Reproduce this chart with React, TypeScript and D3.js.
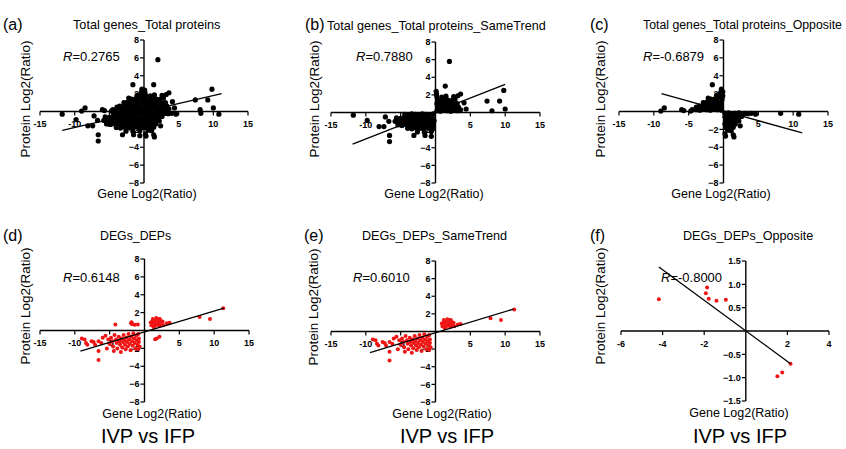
import React from "react";
import * as d3 from "d3";

type Pt = [number, number];

// Total genes vs total proteins, same-trend quadrants (I and III)
const genesSame: Pt[] = [
  [2.0, 5.8], [1.4, 3.0], [9.8, 2.5], [9.2, 1.3], [7.4, 1.3], [8.1, 0.2], [10.0, 0.4], [3.6, 2.1], [0.1, 2.4], [4.1, 1.1], [4.4, 0.4], [3.2, 1.9],
  [0.2, 0.2], [0.7, 0.15], [1.2, 0.25], [1.7, 0.2], [2.2, 0.15], [2.7, 0.25], [3.2, 0.2], [3.6, 0.3],
  [0.3, 0.6], [0.8, 0.55], [1.3, 0.65], [1.8, 0.6], [2.3, 0.55], [2.8, 0.65], [3.3, 0.6],
  [0.2, 1.0], [0.7, 1.05], [1.2, 0.95], [1.7, 1.0], [2.2, 1.05], [2.7, 0.95], [3.1, 1.0],
  [0.3, 1.4], [0.8, 1.35], [1.3, 1.45], [1.8, 1.4], [2.3, 1.35], [2.8, 1.5],
  [0.2, 1.8], [0.9, 1.75], [1.5, 1.85], [2.6, 1.8], [0.15, 2.1],
  [-11.8, -0.3], [-9.8, -0.9], [-8.1, -1.6], [-7.4, -1.6], [-6.6, -2.6], [-6.6, -3.3], [-3.1, -2.6], [-1.5, -2.6], [-6.7, -1.0], [-7.2, -0.5], [-0.6, -2.7],
  [-4.4, -0.2], [-3.9, -0.25], [-3.4, -0.15], [-2.9, -0.2], [-2.4, -0.25], [-1.9, -0.15], [-1.4, -0.2], [-0.9, -0.25], [-0.3, -0.15],
  [-5.6, -0.6], [-5.0, -0.65], [-4.5, -0.55], [-4.0, -0.6], [-3.5, -0.65], [-3.0, -0.55], [-2.5, -0.6], [-2.0, -0.65], [-1.5, -0.55], [-1.0, -0.6], [-0.4, -0.65],
  [-5.8, -1.0], [-5.2, -1.05], [-4.7, -0.95], [-4.2, -1.0], [-3.7, -1.05], [-3.2, -0.95], [-2.7, -1.0], [-2.2, -1.05], [-1.7, -0.95], [-1.2, -1.0], [-0.7, -1.05], [-0.2, -0.95],
  [-5.4, -1.4], [-4.9, -1.45], [-4.4, -1.35], [-3.8, -1.4], [-3.3, -1.45], [-2.8, -1.35], [-2.3, -1.4], [-1.8, -1.45], [-1.3, -1.35], [-0.8, -1.4], [-0.3, -1.45],
  [-4.0, -1.8], [-3.4, -1.85], [-2.8, -1.75], [-2.2, -1.8], [-1.6, -1.85], [-1.0, -1.75], [-0.4, -1.8],
  [-2.6, -2.2], [-1.6, -2.25], [-0.6, -2.15],
];

// Total genes vs total proteins, opposite quadrants (II and IV)
const genesOpposite: Pt[] = [
  [-1.6, 3.0], [-2.2, 1.5], [-8.5, 0.4], [-9.0, 0.05], [-6.0, 0.2], [-5.7, 0.1], [-4.5, 0.2], [-4.7, 0.05], [-3.9, 0.5], [-0.3, 2.5],
  [-3.9, 0.2], [-3.4, 0.15], [-2.9, 0.25], [-2.4, 0.2], [-1.9, 0.15], [-1.4, 0.25], [-0.9, 0.2], [-0.3, 0.15],
  [-3.5, 0.6], [-3.0, 0.55], [-2.5, 0.65], [-2.0, 0.6], [-1.5, 0.55], [-1.0, 0.65], [-0.4, 0.6],
  [-2.9, 1.0], [-2.4, 1.05], [-1.9, 0.95], [-1.4, 1.0], [-0.9, 1.05], [-0.3, 1.0],
  [-1.8, 1.4], [-1.3, 1.35], [-0.8, 1.45], [-0.2, 1.4],
  [-1.0, 1.8], [-0.5, 1.85], [-0.1, 1.75], [-0.4, 2.15], [-0.1, 2.2],
  [3.5, -0.25], [4.0, -0.2], [4.6, -0.3], [8.2, -0.2], [10.8, -0.3], [0.2, -2.5], [0.3, -2.75], [1.5, -2.85], [1.4, -2.6], [2.4, -1.6],
  [0.2, -0.2], [0.7, -0.15], [1.2, -0.25], [1.7, -0.2], [2.2, -0.15], [2.7, -0.25], [3.1, -0.2],
  [0.2, -0.6], [0.7, -0.65], [1.2, -0.55], [1.7, -0.6], [2.2, -0.65], [2.6, -0.55],
  [0.3, -1.0], [0.8, -1.05], [1.3, -0.95], [1.8, -1.0], [2.2, -1.05],
  [0.2, -1.4], [0.7, -1.35], [1.2, -1.45], [1.7, -1.4],
  [0.3, -1.8], [0.9, -1.85], [1.4, -1.75], [0.6, -2.1], [1.1, -2.15],
];

const genesAll: Pt[] = [...genesSame, ...genesOpposite];

// DEGs vs DEPs, same trend
const degSame: Pt[] = [
  [11.3, 2.5], [7.9, 1.5], [9.4, 1.3], [3.6, 0.86], [3.2, 0.8],
  [1.0, 0.6], [1.1, 1.0], [1.2, 1.3], [1.4, 0.8], [1.5, 0.5], [1.6, 1.1], [1.8, 0.7], [1.9, 1.3], [2.0, 0.9], [2.1, 0.5],
  [2.3, 1.1], [2.4, 0.7], [2.6, 1.0], [2.7, 0.6], [1.3, 0.4], [1.7, 1.4], [2.2, 1.3], [0.9, 0.9],
  [-9.0, -0.9], [-8.6, -1.0], [-8.4, -1.4], [-8.2, -1.6], [-7.6, -1.2], [-7.3, -1.3], [-7.1, -1.6], [-6.6, -1.2], [-6.6, -2.3], [-6.6, -3.3], [-6.2, -1.4], [-6.0, -0.8],
  [-5.6, -0.6], [-5.4, -2.0], [-5.2, -1.0], [-5.0, -1.5], [-4.8, -0.8], [-4.6, -1.2], [-4.5, -1.8], [-4.4, -2.3], [-4.3, -0.5], [-4.1, -1.0],
  [-4.0, -1.4], [-3.9, -2.0], [-3.7, -0.7], [-3.6, -1.2], [-3.5, -1.6], [-3.4, -2.4], [-3.3, -0.9], [-3.2, -1.9], [-3.1, -1.3], [-3.0, -0.5],
  [-2.9, -1.1], [-2.8, -1.6], [-2.7, -2.1], [-2.6, -0.8], [-2.5, -1.3], [-2.4, -1.8], [-2.3, -0.4], [-2.2, -1.0], [-2.1, -1.5], [-2.0, -2.2],
  [-1.9, -0.7], [-1.8, -1.2], [-1.7, -1.7], [-1.6, -0.3], [-1.5, -0.9], [-1.4, -1.4], [-1.3, -2.0], [-1.2, -0.6], [-1.1, -1.1], [-1.0, -1.6],
  [-0.9, -0.4], [-0.9, -2.1], [-0.8, -0.9], [-0.8, -1.3], [-0.7, -1.8],
];

// DEGs vs DEPs, opposite trend
const degOpposite: Pt[] = [
  [-4.18, 0.68], [-1.86, 0.93], [-1.92, 0.81], [-1.78, 0.69], [-1.41, 0.65], [-0.96, 0.67],
  [2.15, -0.7], [1.75, -0.89], [1.52, -0.97],
];

const degAll: Pt[] = [...degSame, ...degOpposite];

// regression lines: [x0, y0, x1, y1]
const fitA = [-11.8, -2.1, 11.2, 2.0];
const fitB = [-11.9, -3.6, 10.0, 3.2];
const fitC = [-8.9, 2.0, 11.3, -2.4];
const fitD = [-9.2, -2.3, 11.4, 2.5];
const fitE = [-9.4, -2.4, 11.2, 2.55];
const fitF = [-4.18, 1.37, 2.15, -0.7];

const wideTicksX = [-15, -10, -5, 5, 10, 15];
const wideTicksY = [-8, -6, -4, -2, 2, 4, 6, 8];
const narrowTicksX = [-6, -4, -2, 2, 4];
const narrowTicksY = [-1.5, -1.0, -0.5, 0.5, 1.0, 1.5];

const FONT = "'Liberation Sans', Arial, sans-serif";
const RED = "#f01414";

const panels = [
  { letter: "(a)", lx: 3, ly: 30, title: "Total genes_Total proteins", tx: 73, ty: 29, ts: 12.7, r: "=0.2765", rx: 63, ry: 61,
    data: genesAll, fit: fitA, xd: [-15, 15], yd: [-8, 8], xr: [40, 248], yr: [183, 40], xt: wideTicksX, yt: wideTicksY,
    color: "#000", yl: [25, 99], xl: [147, 198], foot: null },
  { letter: "(b)", lx: 305, ly: 30, title: "Total genes_Total proteins_SameTrend", tx: 327, ty: 30, ts: 12.6, r: "=0.7880", rx: 356, ry: 61,
    data: genesSame, fit: fitB, xd: [-15, 15], yd: [-8, 8], xr: [331, 540], yr: [183, 42], xt: wideTicksX, yt: wideTicksY,
    color: "#000", yl: [314, 99], xl: [434, 198], foot: null },
  { letter: "(c)", lx: 590, ly: 30, title: "Total genes_Total proteins_Opposite", tx: 643, ty: 29, ts: 12.3, r: "=-0.6879", rx: 643, ry: 61,
    data: genesOpposite, fit: fitC, xd: [-15, 15], yd: [-8, 8], xr: [619, 828], yr: [183, 40], xt: wideTicksX, yt: wideTicksY,
    color: "#000", yl: [600, 99], xl: [721, 198], foot: null },
  { letter: "(d)", lx: 3, ly: 241, title: "DEGs_DEPs", tx: 100, ty: 240, ts: 12.3, r: "=0.6148", rx: 63, ry: 282,
    data: degAll, fit: fitD, xd: [-15, 15], yd: [-8, 8], xr: [40, 249], yr: [402, 259], xt: wideTicksX, yt: wideTicksY,
    color: RED, yl: [25, 306], xl: [152, 418], foot: 148 },
  { letter: "(e)", lx: 304, ly: 241, title: "DEGs_DEPs_SameTrend", tx: 362, ty: 240, ts: 12.6, r: "=0.6010", rx: 353, ry: 282,
    data: degSame, fit: fitE, xd: [-15, 15], yd: [-8, 8], xr: [331, 540], yr: [402, 261], xt: wideTicksX, yt: wideTicksY,
    color: RED, yl: [313, 307], xl: [442, 418], foot: 447 },
  { letter: "(f)", lx: 590, ly: 241, title: "DEGs_DEPs_Opposite", tx: 683, ty: 240, ts: 12.6, r: "=-0.8000", rx: 661, ry: 282,
    data: degOpposite, fit: fitF, xd: [-6, 4], yd: [-1.5, 1.5], xr: [621, 829], yr: [401, 261], xt: narrowTicksX, yt: narrowTicksY,
    color: RED, yl: [600, 306], xl: [739, 417], foot: 740 },
];

const Panel = ({ p }: { p: (typeof panels)[number] }) => {
  const x = d3.scaleLinear().domain(p.xd).range(p.xr);
  const y = d3.scaleLinear().domain(p.yd).range(p.yr);
  const x0 = x(0);
  const y0 = y(0);
  const narrow = p.xd[0] === -6;
  const fmtY = narrow ? d3.format(".1f") : d3.format("d");
  const line = d3.line<number[]>().x((d) => x(d[0])).y((d) => y(d[1]));
  const r = p.color === "#000" ? 2.6 : 2.0;

  return (
    <g fontFamily={FONT}>
      <text x={p.lx} y={p.ly} fontSize={16}>{p.letter}</text>
      <text x={p.tx} y={p.ty} fontSize={p.ts}>{p.title}</text>
      <text x={p.rx} y={p.ry} fontSize={13}>
        <tspan fontStyle="italic">R</tspan>{p.r}
      </text>

      {/* axes */}
      <line x1={p.xr[0]} x2={p.xr[1]} y1={y0} y2={y0} stroke="#000" strokeWidth={1.4} />
      <line x1={x0} x2={x0} y1={p.yr[0]} y2={p.yr[1]} stroke="#000" strokeWidth={1.4} />
      {p.xt.map((t) => (
        <g key={"x" + t}>
          <line x1={x(t)} x2={x(t)} y1={y0} y2={y0 + 4} stroke="#000" strokeWidth={1.2} />
          <text x={x(t)} y={y0 + 15.5} fontSize={9} fontWeight="bold" textAnchor="middle">{t}</text>
        </g>
      ))}
      {p.yt.map((t) => (
        <g key={"y" + t}>
          <line x1={x0 - 4} x2={x0} y1={y(t)} y2={y(t)} stroke="#000" strokeWidth={1.2} />
          <text x={x0 - 5} y={y(t) + 3.2} fontSize={9} fontWeight="bold" textAnchor="end">{fmtY(t)}</text>
        </g>
      ))}

      {p.data.map((d, i) => (
        <circle key={i} cx={x(d[0])} cy={y(d[1])} r={r} fill={p.color} />
      ))}

      <path d={line([[p.fit[0], p.fit[1]], [p.fit[2], p.fit[3]]]) || ""} stroke="#000" strokeWidth={1.3} fill="none" />

      <text transform={`translate(${p.yl[0] + 5},${p.yl[1]}) rotate(-90)`} fontSize={13.5} textAnchor="middle">
        Protein Log2(Ratio)
      </text>
      <text x={p.xl[0]} y={p.xl[1]} fontSize={12.5} textAnchor="middle">Gene Log2(Ratio)</text>
      {p.foot !== null && (
        <text x={p.foot} y={443} fontSize={20} textAnchor="middle">IVP vs IFP</text>
      )}
    </g>
  );
};

export default function App() {
  return (
    <svg width={846} height={449} style={{ position: "absolute", left: 0, top: 0, background: "#fff" }}>
      <rect width={846} height={449} fill="#fff" />
      {panels.map((p) => (
        <Panel key={p.letter} p={p} />
      ))}
    </svg>
  );
}
